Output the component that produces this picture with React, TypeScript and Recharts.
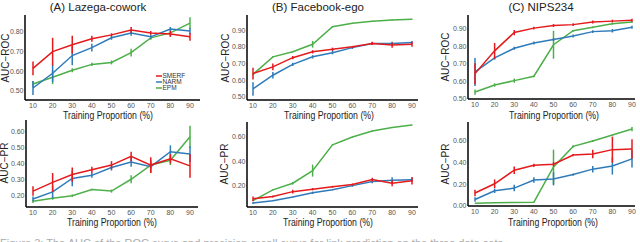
import { LineChart, Line, XAxis, YAxis, ErrorBar } from 'recharts';

const RED = '#E41A1C';
const BLUE = '#2F7BBA';
const GREEN = '#4DAF4A';
const FONT = '"Liberation Sans", Arial, sans-serif';

const proportions = [10, 20, 30, 40, 50, 60, 70, 80, 90];

// (A) Lazega-cowork
const lazegaRocSmerf = [0.615, 0.70, 0.735, 0.765, 0.785, 0.81, 0.795, 0.79, 0.775];
const lazegaRocSmerfErr = [0.035, 0.07, 0.045, 0.015, 0.008, 0.015, 0.01, 0.015, 0.02];
const lazegaRocNarm = [0.515, 0.59, 0.68, 0.72, 0.77, 0.795, 0.775, 0.815, 0.805];
const lazegaRocNarmErr = [0.035, 0.045, 0.05, 0.02, 0.01, 0.015, 0.01, 0.01, 0.015];
const lazegaRocEpm = [0.535, 0.57, 0.605, 0.635, 0.645, 0.695, 0.77, 0.795, 0.845];
const lazegaRocEpmErr = [0.015, 0.035, 0.01, 0.008, 0.01, 0.02, 0.01, 0.02, 0.03];

const lazegaPrSmerf = [0.225, 0.28, 0.33, 0.36, 0.39, 0.445, 0.39, 0.43, 0.385];
const lazegaPrSmerfErr = [0.03, 0.06, 0.045, 0.02, 0.025, 0.03, 0.05, 0.03, 0.075];
const lazegaPrNarm = [0.175, 0.22, 0.305, 0.325, 0.375, 0.41, 0.38, 0.475, 0.46];
const lazegaPrNarmErr = [0.015, 0.04, 0.05, 0.015, 0.02, 0.03, 0.04, 0.04, 0.05];
const lazegaPrEpm = [0.16, 0.18, 0.195, 0.235, 0.225, 0.30, 0.39, 0.42, 0.57];
const lazegaPrEpmErr = [0.01, 0.01, 0.008, 0.005, 0.01, 0.025, 0.02, 0.03, 0.07];

// (B) Facebook-ego
const fbRocSmerf = [0.64, 0.68, 0.735, 0.77, 0.785, 0.80, 0.82, 0.81, 0.815];
const fbRocSmerfErr = [0.035, 0.02, 0.01, 0.01, 0.01, 0.005, 0.01, 0.015, 0.015];
const fbRocNarm = [0.548, 0.63, 0.695, 0.74, 0.765, 0.795, 0.82, 0.82, 0.825];
const fbRocNarmErr = [0.04, 0.02, 0.01, 0.01, 0.01, 0.008, 0.008, 0.01, 0.01];
const fbRocEpm = [0.635, 0.74, 0.77, 0.815, 0.92, 0.94, 0.953, 0.96, 0.965];
const fbRocEpmErr = [0.005, 0.004, 0.004, 0.02, 0.004, 0.003, 0.003, 0.003, 0.003];

const fbPrSmerf = [0.085, 0.105, 0.145, 0.165, 0.185, 0.205, 0.245, 0.215, 0.235];
const fbPrSmerfErr = [0.02, 0.008, 0.015, 0.01, 0.008, 0.008, 0.015, 0.025, 0.03];
const fbPrNarm = [0.05, 0.07, 0.10, 0.135, 0.16, 0.195, 0.23, 0.24, 0.245];
const fbPrNarmErr = [0.008, 0.004, 0.004, 0.01, 0.004, 0.01, 0.015, 0.025, 0.02];
const fbPrEpm = [0.07, 0.16, 0.215, 0.32, 0.535, 0.60, 0.65, 0.68, 0.70];
const fbPrEpmErr = [0.004, 0.004, 0.01, 0.05, 0.004, 0.004, 0.004, 0.004, 0.004];

// (C) NIPS234
const nipsRocSmerf = [0.645, 0.775, 0.88, 0.905, 0.92, 0.925, 0.94, 0.945, 0.95];
const nipsRocSmerfErr = [0.06, 0.045, 0.015, 0.008, 0.008, 0.008, 0.008, 0.008, 0.008];
const nipsRocNarm = [0.655, 0.735, 0.79, 0.82, 0.84, 0.86, 0.885, 0.89, 0.91];
const nipsRocNarmErr = [0.08, 0.01, 0.008, 0.008, 0.008, 0.008, 0.008, 0.01, 0.008];
const nipsRocEpm = [0.54, 0.58, 0.605, 0.63, 0.81, 0.89, 0.91, 0.93, 0.94];
const nipsRocEpmErr = [0.015, 0.01, 0.012, 0.005, 0.08, 0.005, 0.005, 0.005, 0.005];

const nipsPrSmerf = [0.12, 0.205, 0.33, 0.375, 0.385, 0.47, 0.48, 0.52, 0.525];
const nipsPrSmerfErr = [0.03, 0.04, 0.035, 0.015, 0.02, 0.01, 0.04, 0.12, 0.09];
const nipsPrNarm = [0.06, 0.14, 0.165, 0.24, 0.25, 0.29, 0.34, 0.37, 0.435];
const nipsPrNarmErr = [0.02, 0.02, 0.03, 0.025, 0.06, 0.01, 0.03, 0.08, 0.08];
const nipsPrEpm = [0.025, 0.03, 0.032, 0.035, 0.36, 0.55, 0.60, 0.655, 0.71];
const nipsPrEpmErr = [0.003, 0.003, 0.003, 0.003, 0.16, 0.01, 0.01, 0.005, 0.02];

const rocTicksA = [0.5, 0.6, 0.7, 0.8];
const rocTicksBC = [0.5, 0.6, 0.7, 0.8, 0.9];
const prTicksA = [0.2, 0.3, 0.4, 0.5, 0.6];
const prTicksB = [0.2, 0.4, 0.6];
const prTicksC = [0, 0.2, 0.4, 0.6];

const rows = (s: number[], se: number[], n: number[], ne: number[], e: number[], ee: number[]) =>
  proportions.map((x, i) => ({
    x, smerf: s[i], smerfErr: se[i], narm: n[i], narmErr: ne[i], epm: e[i], epmErr: ee[i],
  }));

interface Geom { l: number; r: number; t: number; b: number; padL: number; padR: number }

const AXW = 30;
const AXH = 16;
const M = 4;

function Panel({ data, g, domain, ticks }: { data: any[]; g: Geom; domain: number[]; ticks: number[] }) {
  const width = g.r - g.l + AXW + M;
  const height = g.b - g.t + AXH + M;
  const tick = { fontSize: 7, fill: '#555', fontFamily: FONT };
  const series = [
    { key: 'epm', color: GREEN },
    { key: 'narm', color: BLUE },
    { key: 'smerf', color: RED },
  ];
  return (
    <div style={{ position: 'absolute', left: g.l - AXW, top: g.t - M }}>
      <LineChart width={width} height={height} data={data} margin={{ top: M, right: M, left: 0, bottom: 0 }}>
        <XAxis
          dataKey="x" type="number" domain={[10, 90]} ticks={proportions} interval={0}
          padding={{ left: g.padL, right: g.padR }} height={AXH}
          tickLine={false} tickSize={2} tickMargin={1} tick={tick}
          axisLine={{ stroke: '#000', strokeWidth: 1.5 }}
        />
        <YAxis
          type="number" domain={domain} ticks={ticks} allowDataOverflow interval={0}
          width={AXW} tickLine={false} tickSize={0} tickMargin={1.5} tick={tick}
          tickFormatter={(v: number) => v.toFixed(2)}
          axisLine={{ stroke: '#000', strokeWidth: 1.5 }}
        />
        {series.map((s) => (
          <Line
            key={s.key} type="linear" dataKey={s.key} stroke={s.color} strokeWidth={1.5}
            dot={false} isAnimationActive={false}
          >
            <ErrorBar dataKey={`${s.key}Err`} width={0} stroke={s.color} strokeWidth={1.5} direction="y" />
          </Line>
        ))}
      </LineChart>
    </div>
  );
}

const gA1: Geom = { l: 25, r: 200, t: 15, b: 100, padL: 8, padR: 10 };
const gB1: Geom = { l: 247, r: 418, t: 15, b: 100, padL: 6, padR: 6 };
const gC1: Geom = { l: 468, r: 635, t: 15, b: 99, padL: 7, padR: 3 };
const gA2: Geom = { l: 26, r: 198, t: 120, b: 207, padL: 7, padR: 8 };
const gB2: Geom = { l: 247, r: 418, t: 122, b: 207, padL: 6, padR: 6 };
const gC2: Geom = { l: 468, r: 635, t: 122, b: 206, padL: 7, padR: 3 };

const titles = [
  { text: '(A) Lazega-cowork', x: 98 },
  { text: '(B) Facebook-ego', x: 318 },
  { text: '(C) NIPS234', x: 541 },
];
const xLabels = [
  { x: 108, y: 115 }, { x: 329, y: 115 }, { x: 554, y: 115 },
  { x: 112, y: 222 }, { x: 328, y: 222 }, { x: 553, y: 222 },
];
const yLabels = [
  { text: 'AUC\u2212ROC', x: 6, y: 58 }, { text: 'AUC\u2212ROC', x: 226, y: 58 }, { text: 'AUC\u2212ROC', x: 446, y: 57 },
  { text: 'AUC\u2212PR', x: 5, y: 163 }, { text: 'AUC\u2212PR', x: 225, y: 164 }, { text: 'AUC\u2212PR', x: 446, y: 164 },
];
const legend = [
  { name: 'SMERF', color: RED },
  { name: 'NARM', color: BLUE },
  { name: 'EPM', color: GREEN },
];

export default function App() {
  return (
    <div style={{ position: 'absolute', left: 0, top: 0, width: 640, height: 242, overflow: 'hidden', background: '#fff' }}>
      <Panel data={rows(lazegaRocSmerf, lazegaRocSmerfErr, lazegaRocNarm, lazegaRocNarmErr, lazegaRocEpm, lazegaRocEpmErr)} g={gA1} domain={[0.454, 0.886]} ticks={rocTicksA} />
      <Panel data={rows(fbRocSmerf, fbRocSmerfErr, fbRocNarm, fbRocNarmErr, fbRocEpm, fbRocEpmErr)} g={gB1} domain={[0.482, 0.99]} ticks={rocTicksBC} />
      <Panel data={rows(nipsRocSmerf, nipsRocSmerfErr, nipsRocNarm, nipsRocNarmErr, nipsRocEpm, nipsRocEpmErr)} g={gC1} domain={[0.5, 0.98]} ticks={rocTicksBC} />
      <Panel data={rows(lazegaPrSmerf, lazegaPrSmerfErr, lazegaPrNarm, lazegaPrNarmErr, lazegaPrEpm, lazegaPrEpmErr)} g={gA2} domain={[0.124, 0.676]} ticks={prTicksA} />
      <Panel data={rows(fbPrSmerf, fbPrSmerfErr, fbPrNarm, fbPrNarmErr, fbPrEpm, fbPrEpmErr)} g={gB2} domain={[0.017, 0.725]} ticks={prTicksB} />
      <Panel data={rows(nipsPrSmerf, nipsPrSmerfErr, nipsPrNarm, nipsPrNarmErr, nipsPrEpm, nipsPrEpmErr)} g={gC2} domain={[0, 0.775]} ticks={prTicksC} />

      <svg width={640} height={242} style={{ position: 'absolute', left: 0, top: 0, pointerEvents: 'none' }} fontFamily={FONT}>
        {titles.map((t) => (
          <text key={t.text} x={t.x} y={11} textAnchor="middle" fontSize={11.5} fill="#222">{t.text}</text>
        ))}
        {xLabels.map((l, i) => (
          <text key={i} x={l.x} y={l.y + 3.5} textAnchor="middle" fontSize={10} fill="#222"
            textLength={90} lengthAdjust="spacingAndGlyphs">Training Proportion (%)</text>
        ))}
        {yLabels.map((l, i) => (
          <text key={i} x={0} y={0} transform={`translate(${l.x + 2.5},${l.y}) rotate(-90)`} textAnchor="middle"
            fontSize={10} fill="#222">{l.text}</text>
        ))}
        {legend.map((d, i) => (
          <g key={d.name}>
            <line x1={156} x2={162} y1={76 + i * 6} y2={76 + i * 6} stroke={d.color} strokeWidth={1.5} />
            <text x={162.5} y={78.3 + i * 6} fontSize={6.5} fill="#333">{d.name}</text>
          </g>
        ))}
        <text x={0} y={247} fontSize={11} fill="#aaa">Figure 3: The AUC of the ROC curve and precision-recall curve for link prediction on the three data sets.</text>
      </svg>
    </div>
  );
}
